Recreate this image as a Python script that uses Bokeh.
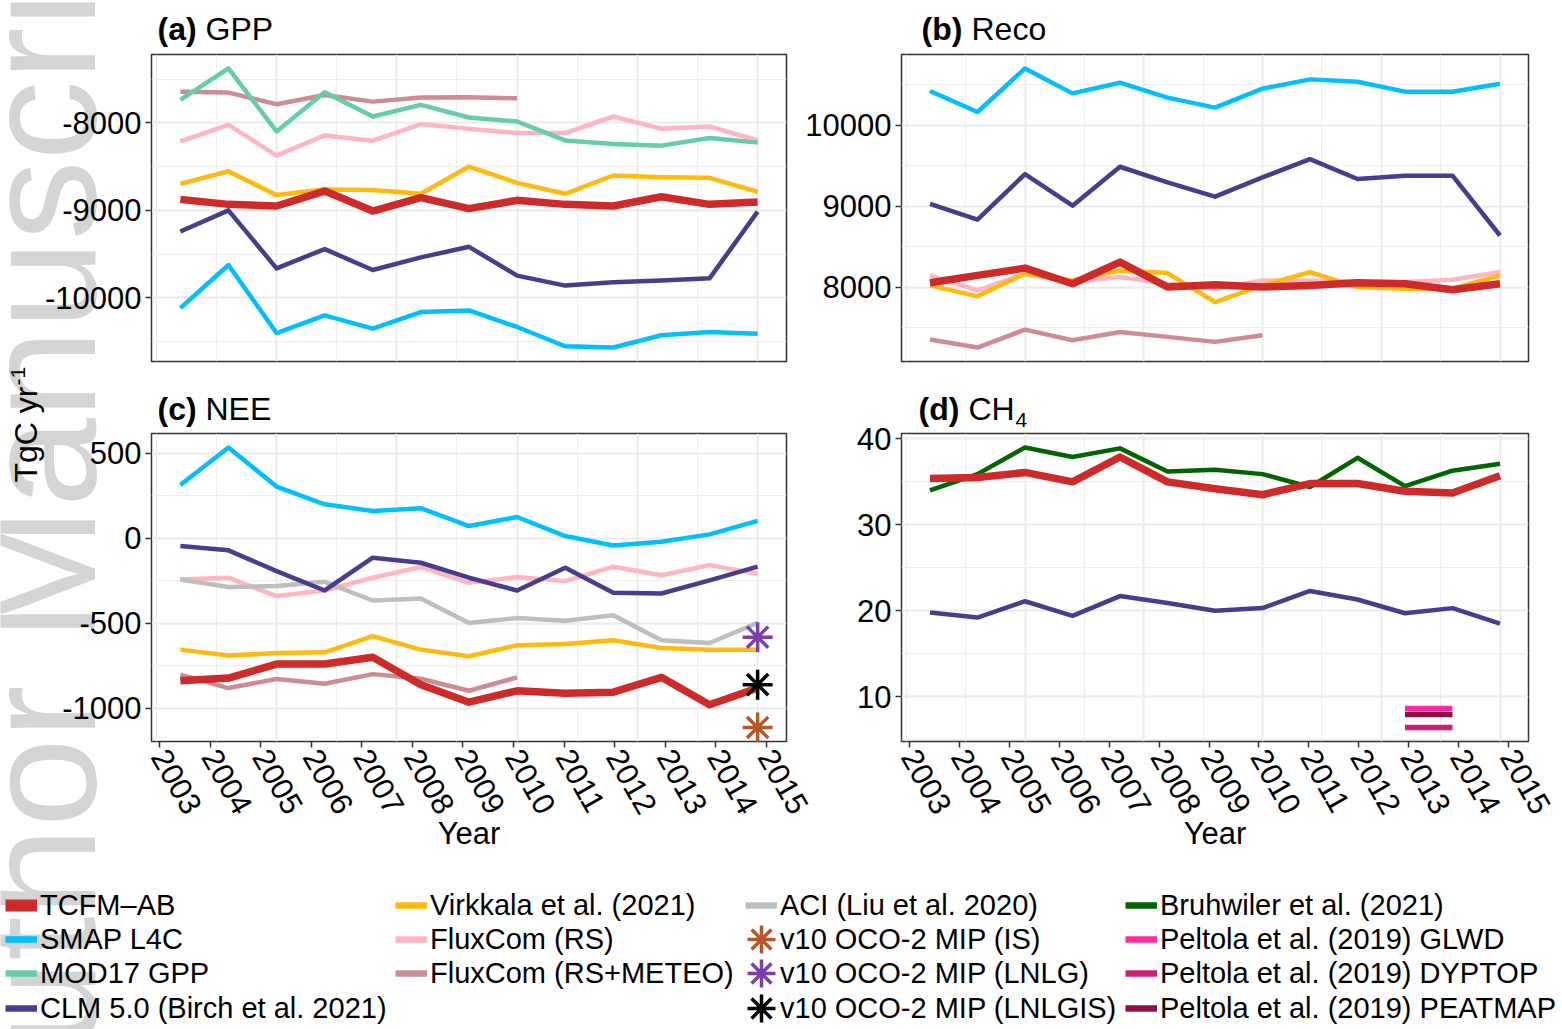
import math
from bokeh.plotting import figure
from bokeh.models import Range1d, FixedTicker, LinearAxis, Grid, Label, Legend, LegendItem
from bokeh.layouts import column, row
from bokeh.embed import file_html
from bokeh.resources import INLINE

FONT = "Liberation Sans"

# ---------------- data (TgC yr-1) ----------------
years = list(range(2003, 2016))
years_rsmeteo = years[:8]          # FluxCom (RS+METEO) stops in 2010
peltola_years = [2013, 2014]
oco2_year = [2015]

gpp_tcfm = [-8875, -8932, -8951, -8780, -9008, -8856, -8981, -8886, -8932, -8951, -8845, -8932, -8905]
gpp_smap = [-10117, -9625, -10402, -10201, -10352, -10163, -10144, -10333, -10553, -10568, -10428, -10390, -10409]
gpp_mod17 = [-7739, -7379, -8098, -7652, -7928, -7795, -7939, -7985, -8201, -8242, -8261, -8174, -8224]
gpp_clm = [-9242, -9000, -9663, -9443, -9682, -9538, -9417, -9746, -9860, -9822, -9803, -9777, -9015]
gpp_virkkala = [-8697, -8553, -8826, -8761, -8769, -8811, -8500, -8686, -8811, -8602, -8621, -8629, -8788]
gpp_fluxcom_rs = [-8212, -8023, -8375, -8144, -8205, -8015, -8068, -8117, -8117, -7928, -8068, -8042, -8201]
gpp_fluxcom_rsmeteo = [-7644, -7655, -7788, -7682, -7758, -7712, -7708, -7720]

reco_tcfm = [8053, 8144, 8234, 8041, 8308, 8000, 8029, 8000, 8020, 8053, 8041, 7967, 8041]
reco_smap = [10423, 10164, 10702, 10394, 10526, 10341, 10218, 10452, 10567, 10538, 10415, 10415, 10513]
reco_clm = [9027, 8834, 9396, 9006, 9487, 9294, 9117, 9355, 9581, 9335, 9376, 9376, 8637]
reco_virkkala = [8020, 7885, 8164, 8082, 8205, 8172, 7815, 8020, 8185, 8000, 7979, 7979, 8144]
reco_fluxcom_rs = [8144, 7959, 8164, 8062, 8123, 8041, 7979, 8082, 8082, 8062, 8062, 8090, 8185]
reco_fluxcom_rsmeteo = [7351, 7252, 7474, 7343, 7445, 7384, 7322, 7404]

nee_tcfm = [-839, -823, -741, -741, -701, -862, -965, -898, -912, -906, -819, -980, -882]
nee_smap = [313, 533, 303, 199, 160, 176, 71, 124, 12, -43, -21, 22, 101]
nee_clm = [-47, -72, -194, -308, -115, -145, -233, -308, -174, -322, -326, -249, -168]
nee_virkkala = [-656, -691, -676, -672, -577, -656, -695, -630, -623, -601, -646, -656, -656]
nee_fluxcom_rs = [-243, -233, -341, -308, -233, -170, -263, -229, -253, -168, -218, -159, -210]
nee_fluxcom_rsmeteo = [-803, -882, -829, -857, -800, -827, -898, -819]
nee_aci = [-243, -288, -282, -257, -367, -355, -499, -470, -486, -454, -601, -617, -499]
nee_oco2_is = [-1114]
nee_oco2_lnlg = [-583]
nee_oco2_lnlgis = [-862]

ch4_tcfm = [35.4, 35.5, 36.1, 35.0, 37.9, 35.0, 34.2, 33.5, 34.8, 34.8, 33.9, 33.7, 35.7]
ch4_bruhwiler = [34.0, 35.9, 39.0, 37.9, 38.9, 36.2, 36.4, 35.9, 34.4, 37.8, 34.5, 36.3, 37.1]
ch4_clm = [19.8, 19.2, 21.1, 19.4, 21.7, 20.9, 20.0, 20.3, 22.3, 21.3, 19.7, 20.3, 18.5]
ch4_peltola_glwd = [8.6, 8.6]
ch4_peltola_dyptop = [6.4, 6.4]
ch4_peltola_peatmap = [7.9, 7.9]

gpp_ticks = [-10000, -9000, -8000]
reco_ticks = [8000, 9000, 10000]
nee_ticks = [-1000, -500, 0, 500]
ch4_ticks = [10, 20, 30, 40]

# ---------------- colours ----------------
C_TCFM = "#CF2A2A"
C_SMAP = "#00BFFF"
C_MOD17 = "#66CDAA"
C_CLM = "#483D8B"
C_VIRK = "#FFB90F"
C_FXRS = "#FFB6C1"
C_FXRSM = "#CD8C95"
C_ACI = "#BEBEBE"
C_IS = "#B5562B"
C_LNLG = "#7B3FA8"
C_LNLGIS = "#000000"
C_BRUH = "#006400"
C_GLWD = "#FF2D9B"
C_DYPTOP = "#CC1F75"
C_PEATMAP = "#8B1048"

LW = 4.5
LW_T = 7.5
PAGE_W, PAGE_H = 1562, 1029


def expand(vals, frac=0.05):
    lo, hi = min(vals), max(vals)
    d = (hi - lo) * frac
    return lo - d, hi + d


XR = expand(years)
XMAJ = [2005 + 2.5 * i for i in range(5)]
XMIN = [2002.5] + [m - 1.25 for m in XMAJ]

AXIS_KW = dict(axis_line_color=None, major_tick_line_color="#333333", major_tick_line_width=1.5,
               major_tick_in=0, major_tick_out=6, minor_tick_line_color=None,
               major_label_text_font=FONT, major_label_text_font_size="31px",
               major_label_text_color="black", major_label_standoff=4)


def make_panel(width, height, bl, br, bt, bb, yvals, yticks, x_axis):
    yr = expand(yvals)
    p = figure(width=width, height=height, x_range=Range1d(*XR), y_range=Range1d(*yr),
               x_axis_type=None, y_axis_type=None, toolbar_location=None, output_backend="svg",
               min_border_left=bl, min_border_right=br, min_border_top=bt, min_border_bottom=bb,
               background_fill_color="white", border_fill_color=None)
    p.outline_line_color = "#333333"
    p.outline_line_width = 1.5
    p.add_layout(Grid(dimension=0, ticker=FixedTicker(ticks=XMAJ, minor_ticks=XMIN),
                      grid_line_color="#EBEBEB", grid_line_width=2,
                      minor_grid_line_color="#EEEEEE", minor_grid_line_width=1))
    step = yticks[1] - yticks[0]
    ymin = [t for t in [yticks[0] - step / 2] + [t + step / 2 for t in yticks] if yr[0] < t < yr[1]]
    p.add_layout(Grid(dimension=1, ticker=FixedTicker(ticks=yticks, minor_ticks=ymin),
                      grid_line_color="#EBEBEB", grid_line_width=2,
                      minor_grid_line_color="#EEEEEE", minor_grid_line_width=1))
    p.add_layout(LinearAxis(ticker=FixedTicker(ticks=yticks),
                            major_label_overrides={t: str(t) for t in yticks}, **AXIS_KW), "left")
    if x_axis:
        p.extra_x_ranges = {"lab": Range1d(years[0] - 0.16, years[-1] + 0.40)}
        xa = LinearAxis(x_range_name="lab", ticker=FixedTicker(ticks=years), axis_label="Year",
                        major_label_orientation=-math.pi / 3,
                        axis_label_text_font=FONT, axis_label_text_font_size="31px",
                        axis_label_text_font_style="normal", axis_label_text_color="black",
                        axis_label_standoff=-9, **AXIS_KW)
        p.add_layout(xa, "below")
    return p


def line(p, x, y, color, w=LW):
    p.line(x, y, line_color=color, line_width=w, line_join="round", line_cap="butt")


# ---------------- background sheet: watermark, panel titles, shared y title ----------------
bg = figure(width=PAGE_W, height=PAGE_H, x_range=Range1d(0, PAGE_W), y_range=Range1d(PAGE_H, 0),
            x_axis_type=None, y_axis_type=None, toolbar_location=None, output_backend="svg",
            min_border=0, outline_line_color=None, background_fill_color="white",
            border_fill_color="white")

MID = 0.36   # distance from baseline to the "middle" anchor, in em


def add_label(px, py, text, size, style="normal", vertical=False, color="black", level="annotation"):
    # (px, py) is the start of the text's baseline on the page
    if vertical:
        px, angle = px - MID * size, math.pi / 2
    else:
        py, angle = py - MID * size, 0.0
    bg.add_layout(Label(x=px, y=py, text=text, text_font=FONT, text_font_size=f"{size}px",
                        text_font_style=style, text_color=color, angle=angle,
                        text_align="left", text_baseline="middle", level=level))


add_label(97, 1156, "Author Manuscript", 160, vertical=True, color="#D4D4D4", level="underlay")
add_label(37, 482, "TgC yr", 32, vertical=True)
add_label(25, 385, "-1", 21, vertical=True)
add_label(157, 40, "(a)", 32, "bold")
add_label(205, 40, "GPP", 32)
add_label(921, 40, "(b)", 32, "bold")
add_label(971, 40, "Reco", 32)
add_label(157, 420, "(c)", 32, "bold")
add_label(205, 420, "NEE", 32)
add_label(918, 420, "(d)", 32, "bold")
add_label(968, 420, "CH", 32)
add_label(1015, 427, "4", 21)

# ---------------- panel (a) GPP ----------------
pa = make_panel(790, 370, 151, 4, 54, 9,
                gpp_tcfm + gpp_smap + gpp_mod17 + gpp_clm + gpp_virkkala + gpp_fluxcom_rs + gpp_fluxcom_rsmeteo,
                gpp_ticks, False)
line(pa, years, gpp_fluxcom_rs, C_FXRS)
line(pa, years_rsmeteo, gpp_fluxcom_rsmeteo, C_FXRSM)
line(pa, years, gpp_mod17, C_MOD17)
line(pa, years, gpp_smap, C_SMAP)
line(pa, years, gpp_clm, C_CLM)
line(pa, years, gpp_virkkala, C_VIRK)
line(pa, years, gpp_tcfm, C_TCFM, LW_T)

# ---------------- panel (b) Reco ----------------
pb = make_panel(772, 370, 111, 34, 54, 9,
                reco_tcfm + reco_smap + reco_clm + reco_virkkala + reco_fluxcom_rs + reco_fluxcom_rsmeteo,
                reco_ticks, False)
line(pb, years, reco_fluxcom_rs, C_FXRS)
line(pb, years_rsmeteo, reco_fluxcom_rsmeteo, C_FXRSM)
line(pb, years, reco_smap, C_SMAP)
line(pb, years, reco_clm, C_CLM)
line(pb, years, reco_virkkala, C_VIRK)
line(pb, years, reco_tcfm, C_TCFM, LW_T)

# ---------------- panel (c) NEE ----------------
pc = make_panel(815, 505, 151, 29, 63, 134,
                nee_tcfm + nee_smap + nee_clm + nee_virkkala + nee_fluxcom_rs + nee_fluxcom_rsmeteo
                + nee_aci + nee_oco2_is + nee_oco2_lnlg + nee_oco2_lnlgis,
                nee_ticks, True)
line(pc, years, nee_fluxcom_rs, C_FXRS)
line(pc, years, nee_aci, C_ACI)
line(pc, years_rsmeteo, nee_fluxcom_rsmeteo, C_FXRSM)
line(pc, years, nee_smap, C_SMAP)
line(pc, years, nee_clm, C_CLM)
line(pc, years, nee_virkkala, C_VIRK)
line(pc, years, nee_tcfm, C_TCFM, LW_T)
for vals, col in ((nee_oco2_is, C_IS), (nee_oco2_lnlg, C_LNLG), (nee_oco2_lnlgis, C_LNLGIS)):
    pc.scatter(oco2_year, vals, marker="asterisk", size=30, line_color=col, line_width=3.5)

# ---------------- panel (d) CH4 ----------------
pd_ = make_panel(747, 505, 86, 34, 63, 134,
                 ch4_tcfm + ch4_bruhwiler + ch4_clm + ch4_peltola_glwd + ch4_peltola_dyptop + ch4_peltola_peatmap,
                 ch4_ticks, True)
line(pd_, years, ch4_clm, C_CLM)
line(pd_, years, ch4_bruhwiler, C_BRUH)
line(pd_, years, ch4_tcfm, C_TCFM, LW_T)
line(pd_, peltola_years, ch4_peltola_glwd, C_GLWD, 5.5)
line(pd_, peltola_years, ch4_peltola_peatmap, C_PEATMAP, 5.5)
line(pd_, peltola_years, ch4_peltola_dyptop, C_DYPTOP, 5.5)

# ---------------- legend ----------------
LEG_TOP = 875
LEG_H = PAGE_H - LEG_TOP
pl = figure(width=PAGE_W, height=LEG_H, x_range=Range1d(0, PAGE_W), y_range=Range1d(0, LEG_H),
            x_axis_type=None, y_axis_type=None, toolbar_location=None, output_backend="svg",
            min_border=0, outline_line_color=None, background_fill_color=None,
            border_fill_color=None)

NAN = [float("nan")]
legend_spec = [
    # label, kind, colour, width, glyph-left x, row
    ("TCFM–AB", "line", C_TCFM, 12, 5, 0),
    ("SMAP L4C", "line", C_SMAP, 6.5, 5, 1),
    ("MOD17 GPP", "line", C_MOD17, 6.5, 5, 2),
    ("CLM 5.0 (Birch et al. 2021)", "line", C_CLM, 6.5, 5, 3),
    ("Virkkala et al. (2021)", "line", C_VIRK, 6.5, 395, 0),
    ("FluxCom (RS)", "line", C_FXRS, 6.5, 395, 1),
    ("FluxCom (RS+METEO)", "line", C_FXRSM, 6.5, 395, 2),
    ("ACI (Liu et al. 2020)", "line", C_ACI, 6.5, 745, 0),
    ("v10 OCO-2 MIP (IS)", "star", C_IS, 3.5, 761, 1),
    ("v10 OCO-2 MIP (LNLG)", "star", C_LNLG, 3.5, 761, 2),
    ("v10 OCO-2 MIP (LNLGIS)", "star", C_LNLGIS, 3.5, 761, 3),
    ("Bruhwiler et al. (2021)", "line", C_BRUH, 6.5, 1125, 0),
    ("Peltola et al. (2019) GLWD", "line", C_GLWD, 6.5, 1125, 1),
    ("Peltola et al. (2019) DYPTOP", "line", C_DYPTOP, 6.5, 1125, 2),
    ("Peltola et al. (2019) PEATMAP", "line", C_PEATMAP, 6.5, 1125, 3),
]
ROW_Y = [905, 939, 973, 1008]
LEG_KW = dict(padding=0, margin=0, spacing=0, border_line_color=None, background_fill_alpha=0,
              label_text_font=FONT, label_text_font_size="29px", label_text_color="black")


def add_legend(label, rend, x, yc, gw, gh, so):
    pl.add_layout(Legend(items=[LegendItem(label=label, renderers=[rend])], location=(x, yc - gh / 2),
                         glyph_width=gw, glyph_height=gh, label_height=gh, label_standoff=so, **LEG_KW))


for label, kind, col, w, gx, r in legend_spec:
    yc = PAGE_H - ROW_Y[r]
    if kind == "line":
        rend = pl.line(NAN, NAN, line_color=col, line_width=w, line_cap="butt")
        add_legend(label, rend, gx, yc, 32, 34, 3)
    else:
        star = pl.scatter(NAN, NAN, marker="asterisk", size=28, line_color=col, line_width=w)
        add_legend(" ", star, gx - 35, yc, 70, 70, 0)
        blank = pl.line(NAN, NAN, line_alpha=0)
        add_legend(label, blank, 779, yc, 1, 34, 0)

content = column(row(pa, pb), row(pc, pd_), pl, margin=(-PAGE_H, 0, 0, 0))
layout = column(bg, content)
open("out.html", "w").write(file_html(layout, INLINE))
